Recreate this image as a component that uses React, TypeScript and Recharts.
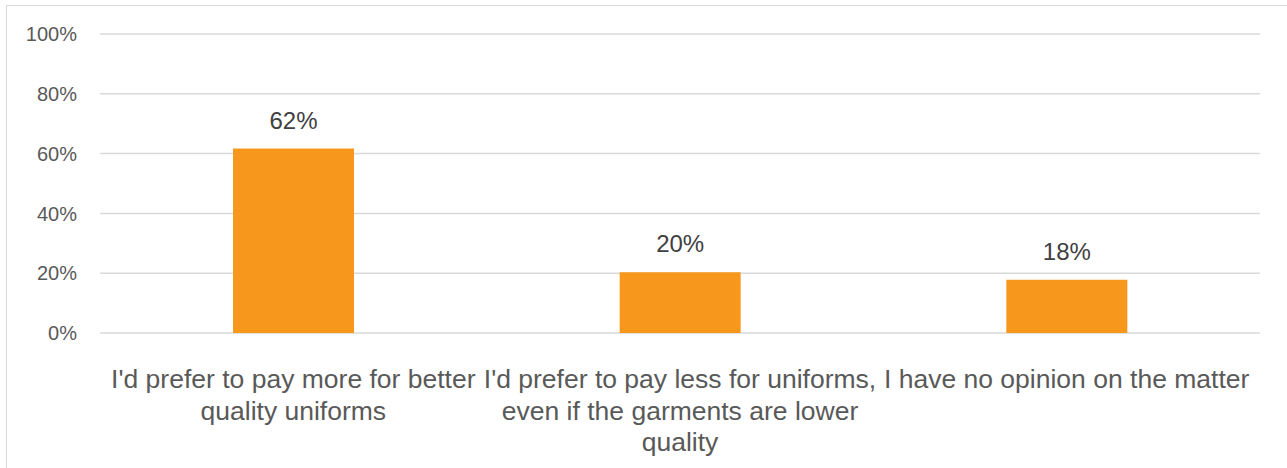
import React from "react";
import { BarChart, Bar, XAxis, YAxis, CartesianGrid, LabelList } from "recharts";

const categories = [
  "I'd prefer to pay more for better\nquality uniforms",
  "I'd prefer to pay less for uniforms,\neven if the garments are lower\nquality",
  "I have no opinion on the matter",
];
const shares = [0.617, 0.203, 0.178];
const yTicks = [0, 0.2, 0.4, 0.6, 0.8, 1];

const data = categories.map((c, i) => ({ category: c, share: shares[i] }));

const FONT = "'Liberation Sans', Arial, sans-serif";

const CategoryTick = (props: any) => {
  const { x, y, payload } = props;
  const lines = String(payload.value).split("\n");
  return (
    <g>
      {lines.map((l, i) => (
        <text
          key={i}
          x={x}
          y={y + 47 + i * 31.5}
          textAnchor="middle"
          fill="#595959"
          fontSize={26.5}
          fontFamily={FONT}
        >
          {l}
        </text>
      ))}
    </g>
  );
};

const PctTick = (props: any) => {
  const { x, y, payload } = props;
  return (
    <text
      x={x}
      y={y}
      dy="0.355em"
      textAnchor="end"
      fill="#595959"
      fontSize={20}
      fontFamily={FONT}
    >
      {Math.round(payload.value * 100) + "%"}
    </text>
  );
};

const ValueLabel = (props: any) => {
  const { x, y, width, value } = props;
  return (
    <text
      x={x + width / 2}
      y={y - 20}
      textAnchor="middle"
      fill="#404040"
      fontSize={24}
      fontFamily={FONT}
    >
      {Math.round(value * 100) + "%"}
    </text>
  );
};

export default function App() {
  return (
    <div
      style={{
        position: "absolute",
        left: 0,
        top: 0,
        width: 1287,
        height: 468,
        background: "#fff",
        overflow: "hidden",
      }}
    >
      <div
        style={{
          position: "absolute",
          left: 6,
          top: 5,
          width: 1300,
          height: 500,
          borderLeft: "1.5px solid #D9D9D9",
          borderTop: "1.5px solid #D9D9D9",
        }}
      />
      <div style={{ position: "absolute", left: 0, top: 0 }}>
        <BarChart
          width={1287}
          height={468}
          data={data}
          margin={{ top: 34, right: 27, bottom: 0, left: 20 }}
          barSize={121}
        >
          <CartesianGrid vertical={false} stroke="#D9D9D9" strokeWidth={1.5} />
          <XAxis
            dataKey="category"
            axisLine={false}
            tickLine={false}
            height={135}
            interval={0}
            tick={<CategoryTick />}
          />
          <YAxis
            domain={[0, 1]}
            ticks={yTicks}
            width={80}
            axisLine={false}
            tickLine={false}
            tickSize={0}
            tickMargin={23}
            tick={<PctTick />}
          />
          <Bar dataKey="share" fill="#F7981D" isAnimationActive={false}>
            <LabelList dataKey="share" content={<ValueLabel />} />
          </Bar>
        </BarChart>
      </div>
    </div>
  );
}
